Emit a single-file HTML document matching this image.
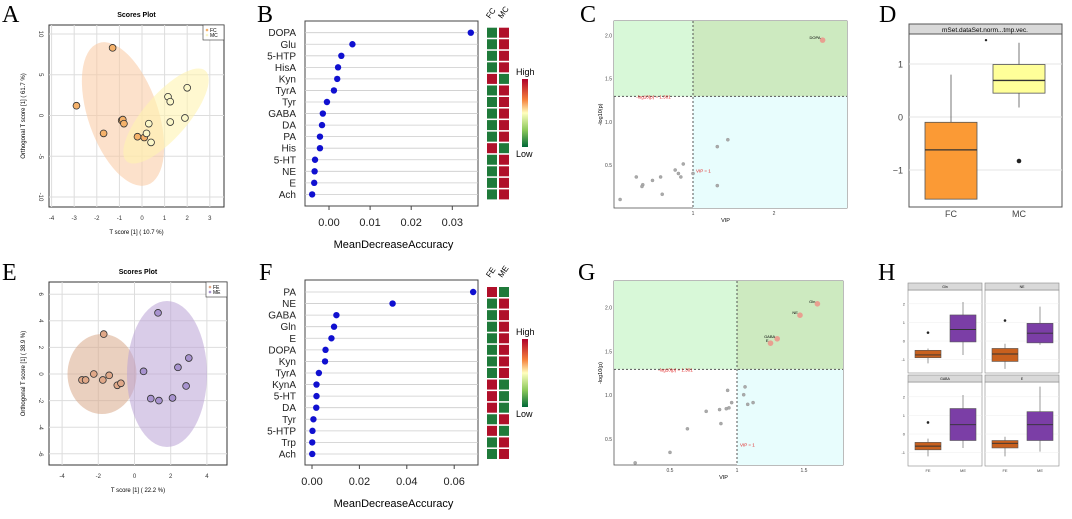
<!DOCTYPE html>
<html><head><meta charset="utf-8"><style>
body{margin:0;background:#fff;width:1072px;height:514px;overflow:hidden}
svg{font-family:"Liberation Sans",sans-serif}
.L{font-family:"Liberation Serif",serif;font-size:24px}
</style></head><body>
<svg id="s" width="1072" height="514" viewBox="0 0 1072 514" xmlns="http://www.w3.org/2000/svg">
<text class="L" x="2" y="22">A</text>
<text class="L" x="257" y="22">B</text>
<text class="L" x="580" y="22">C</text>
<text class="L" x="879" y="22">D</text>
<text class="L" x="2" y="280">E</text>
<text class="L" x="259" y="280">F</text>
<text class="L" x="578" y="280">G</text>
<text class="L" x="878" y="280">H</text>
</svg>
<script>
// ---- data ----
const aFCx=[-1.3,-2.9,-1.7,-0.9,-0.85,-0.8,-0.2,0.1];
const aFCy=[8.3,1.2,-2.2,-0.6,-0.5,-1,-2.6,-2.7];
const aMCx=[0.2,0.4,0.3,1.15,1.25,2,1.25,1.9];
const aMCy=[-2.2,-3.3,-1,2.3,1.7,3.4,-0.8,-0.3];
const bNames=["DOPA","Glu","5-HTP","HisA","Kyn","TyrA","Tyr","GABA","DA","PA","His","5-HT","NE","E","Ach"];
const bVals=[0.0345,0.0057,0.003,0.0022,0.002,0.0012,-0.0005,-0.0015,-0.0017,-0.0022,-0.0022,-0.0034,-0.0035,-0.0036,-0.0041];
const bHigh=[1,1,1,1,0,1,1,1,1,1,0,1,1,1,1]; // 1 = MC high
const bTicks=[0,0.01,0.02,0.03];
const cX=[1.3,1.43,1.3,0.88,0.78,0.82,0.85,0.6,0.5,0.3,0.38,0.37,0.62,0.1,1.0];
const cY=[0.72,0.8,0.27,0.52,0.45,0.41,0.37,0.37,0.33,0.37,0.28,0.26,0.17,0.11,0.41];
const cSigX=[2.6], cSigY=[1.95], cSigLab=["DOPA"];
const dFC=[-1.55,-1.55,-0.62,-0.1,0.8], dMC=[0.18,0.45,0.69,0.99,1.4];
const dOut=[[1,-0.83]];
const eFEx=[-1.7,-2.9,-2.7,-2.25,-1.75,-1.4,-0.95,-0.75];
const eFEy=[3,-0.45,-0.45,0,-0.45,-0.1,-0.85,-0.7];
const eMEx=[1.3,0.5,2.4,3.0,2.85,0.9,1.35,2.1];
const eMEy=[4.6,0.2,0.5,1.2,-0.9,-1.85,-2,-1.8];
const fNames=["PA","NE","GABA","Gln","E","DOPA","Kyn","TyrA","KynA","5-HT","DA","Tyr","5-HTP","Trp","Ach"];
const fVals=[0.068,0.034,0.0103,0.0093,0.0082,0.0057,0.0055,0.0029,0.0019,0.0019,0.0018,0.0006,0.0002,0.0001,0.0001];
const fHigh=[0,1,1,1,1,1,1,1,0,0,0,1,0,1,1]; // 1 = ME high
const fTicks=[0,0.02,0.04,0.06];
const gX=[1.06,1.05,1.12,1.08,0.93,0.96,0.94,0.92,0.87,0.77,0.88,0.63,0.5,0.24];
const gY=[1.1,1.01,0.92,0.9,1.06,0.92,0.86,0.85,0.84,0.82,0.68,0.62,0.35,0.23];
const gSigX=[1.6,1.47,1.3,1.25], gSigY=[2.05,1.92,1.65,1.6], gSigLab=["Gln","NE","GABA","E"];
const hNames=["Gln","NE","GABA","E"];
const hFE=[[-1.2,-0.9,-0.75,-0.5,-0.4],[-1.5,-1.1,-0.7,-0.4,-0.15],[-1.2,-0.85,-0.65,-0.45,-0.25],[-1.2,-0.75,-0.5,-0.35,-0.15]];
const hME=[[-0.75,-0.05,0.62,1.4,2.1],[-0.2,-0.1,0.42,0.95,1.85],[-0.75,-0.35,0.5,1.37,2.1],[-0.95,-0.35,0.5,1.2,2.55]];
const hOut=[0.45,1.1,0.62,null];

const S=document.getElementById('s'), NS="http://www.w3.org/2000/svg";
function mk(tag,a,txt){const e=document.createElementNS(NS,tag);for(const k in a)e.setAttribute(k,a[k]);if(txt!=null)e.textContent=txt;S.appendChild(e);return e;}
function nm(e,n){
return e;}

// ---- scores plot ----
function scores(bx,by,bw,bh,xs,ys,xt,yt,title,xl,yl,ell,g1,g2,c1,c2,ln,pfx){
 let e=mk('rect',{x:bx,y:by,width:bw,height:bh,fill:'#fff',stroke:'#333','stroke-width':1});
 
 
 xt.forEach(v=>{let l=mk('line',{x1:xs(v),x2:xs(v),y1:by,y2:by+bh,stroke:'#ddd'});nm(l,pfx+'-gridline-x');
  let t=mk('text',{x:xs(v),y:by+bh+13,'font-size':6,'text-anchor':'middle',fill:'#333'},v);nm(t,pfx+'-x-tick');});
 yt.forEach(v=>{let l=mk('line',{x1:bx,x2:bx+bw,y1:ys(v),y2:ys(v),stroke:'#ddd'});nm(l,pfx+'-gridline-y');
  let t=mk('text',{x:bx-10,y:ys(v),'font-size':6,'text-anchor':'middle',fill:'#333',transform:`rotate(90 ${bx-10} ${ys(v)})`},v);nm(t,pfx+'-y-tick');});
 ell.forEach((q,i)=>{let el=mk('ellipse',{cx:q[0],cy:q[1],rx:q[2],ry:q[3],fill:q[5],'fill-opacity':q[6],transform:`rotate(${q[4]} ${q[0]} ${q[1]})`});nm(el,pfx+'-ellipse-'+(i?ln[1]:ln[0]).toLowerCase());});
 g1[0].forEach((x,i)=>{let c=mk('circle',{cx:xs(x),cy:ys(g1[1][i]),r:3.4,fill:c1,stroke:'#333','stroke-width':0.8});nm(c,pfx+'-point-'+ln[0].toLowerCase());});
 g2[0].forEach((x,i)=>{let c=mk('circle',{cx:xs(x),cy:ys(g2[1][i]),r:3.4,fill:c2,stroke:'#333','stroke-width':0.8});nm(c,pfx+'-point-'+ln[1].toLowerCase());});
 let t=mk('text',{x:bx+bw/2,y:by-8,'font-size':7,'font-weight':'bold','text-anchor':'middle'},title);nm(t,pfx+'-title');
 t=mk('text',{x:bx+bw/2,y:by+bh+27,'font-size':6,'text-anchor':'middle'},xl);nm(t,pfx+'-x-axis-title');
 t=mk('text',{x:bx-24,y:by+bh/2,'font-size':6,'text-anchor':'middle',transform:`rotate(-90 ${bx-24} ${by+bh/2})`},yl);nm(t,pfx+'-y-axis-title');
 let r=mk('rect',{x:bx+bw-21,y:by,width:21,height:15,fill:'#fff',stroke:'#333','stroke-width':0.6});nm(r,pfx+'-legend');
 [[c1,ln[0]],[c2,ln[1]]].forEach((p,i)=>{let c=mk('circle',{cx:bx+bw-17,cy:by+5+i*5,r:1.3,fill:p[0]});nm(c,pfx+'-legend-marker');
  let tt=mk('text',{x:bx+bw-14,y:by+7+i*5,'font-size':5},p[1]);nm(tt,pfx+'-legend-entry');});
}
{const xs=v=>142+v*22.6, ys=v=>115.5-v*8.15;
 scores(49,25,175,182,xs,ys,[-4,-3,-2,-1,0,1,2,3],[10,5,0,-5,-10],"Scores Plot","T score [1] ( 10.7 %)","Orthogonal T score [1] ( 61.7 %)",
 [[123,114,35,75,-19,'#f9c9a0',0.55],[166,116,22,60,41,'#fff3b0',0.6]],[aFCx,aFCy],[aMCx,aMCy],'#f5b26b','#fbf7c8',["FC","MC"],'a');}
{const xs=v=>134.5+v*18.1, ys=v=>374-v*13.3;
 scores(49,282,178,183,xs,ys,[-4,-2,0,2,4],[6,4,2,0,-2,-4,-6],"Scores Plot","T score [1] ( 22.2 %)","Orthogonal T score [1] ( 38.9 %)",
 [[102,374,34.5,40,0,'#d9a98a',0.55],[167,374,40,73,0,'#b9a3d6',0.55]],[eFEx,eFEy],[eMEx,eMEy],'#e0a888','#a893cf',["FE","ME"],'e');}

// ---- importance dot plots ----
function imp(bx,by,bw,bh,xs,names,vals,high,ticks,row0,step,cols,pfx,cbY){
 let e=mk('rect',{x:bx,y:by,width:bw,height:bh,fill:'#fff',stroke:'#444','stroke-width':1});nm(e,pfx+'-plot-area');
 names.forEach((n,i)=>{const y=row0+i*step;
  let l=mk('line',{x1:bx,x2:bx+bw,y1:y,y2:y,stroke:'#ccc','stroke-width':0.8});nm(l,pfx+'-row-line');
  let t=mk('text',{x:bx-9,y:y+3.5,'font-size':10,'text-anchor':'end',fill:'#222'},n);nm(t,pfx+'-row-label');
  let c=mk('circle',{cx:xs(vals[i]),cy:y,r:3.2,fill:'#1010d0'});nm(c,pfx+'-dot');
  [0,1].forEach(k=>{const red=(high[i]===k);let r=mk('rect',{x:182+bx+k*12,y:y-5,width:10,height:10,fill:red?'#b0102a':'#1f7a3a'});nm(r,pfx+'-heat-cell');});
 });
 ticks.forEach(v=>{let l=mk('line',{x1:xs(v),x2:xs(v),y1:by+bh,y2:by+bh+4,stroke:'#444'});nm(l,pfx+'-x-tick-mark');
  let t=mk('text',{x:xs(v),y:by+bh+20,'font-size':11,'text-anchor':'middle',fill:'#222'},v.toFixed(2));nm(t,pfx+'-x-tick');});
 let t=mk('text',{x:bx+bw/2+2,y:by+bh+42,'font-size':11,'text-anchor':'middle'},"MeanDecreaseAccuracy");nm(t,pfx+'-x-axis-title');
 cols.forEach((c,k)=>{let tx=mk('text',{x:bx+185+k*12,y:by-2,'font-size':8,transform:`rotate(-55 ${bx+185+k*12} ${by-2})`},c);nm(tx,pfx+'-heat-column-label');});
 let gid=pfx+'grad';let d=mk('defs',{});d.innerHTML=`<linearGradient id="${gid}" x1="0" y1="0" x2="0" y2="1"><stop offset="0" stop-color="#b0002a"/><stop offset="0.3" stop-color="#f57f3a"/><stop offset="0.5" stop-color="#ffffbf"/><stop offset="0.75" stop-color="#8cc95b"/><stop offset="1" stop-color="#006837"/></linearGradient>`;
 let r=mk('rect',{x:bx+217,y:cbY,width:6,height:68,fill:`url(#${gid})`});nm(r,pfx+'-colorbar');
 t=mk('text',{x:bx+211,y:cbY-4,'font-size':9},"High");nm(t,pfx+'-colorbar-high');
 t=mk('text',{x:bx+211,y:cbY+78,'font-size':9},"Low");nm(t,pfx+'-colorbar-low');
}
imp(305,21,173,185,v=>329+v*4110,bNames,bVals,bHigh,bTicks,32.7,11.55,["FC","MC"],'b',79);
imp(305,280,173,185,v=>312+v*2370,fNames,fVals,fHigh,fTicks,292,11.57,["FE","ME"],'f',339);

// ---- VIP volcano ----
function vip(bx,by,bw,bh,xs,ys,xt,yt,px,py,sx,sy,sl,pfx,ydig){
 const xv=xs(1), yv=ys(1.3);
 let r=mk('rect',{x:bx,y:by,width:bw,height:bh,fill:'#fff',stroke:'#555','stroke-width':0.8});nm(r,pfx+'-plot-area');
 r=mk('rect',{x:bx,y:by,width:xv-bx,height:yv-by,fill:'#d8f8d8'});nm(r,pfx+'-region-p-only');
 r=mk('rect',{x:xv,y:by,width:bx+bw-xv,height:yv-by,fill:'#cdeac0'});nm(r,pfx+'-region-significant');
 r=mk('rect',{x:xv,y:yv,width:bx+bw-xv,height:by+bh-yv,fill:'#e8fdfd'});nm(r,pfx+'-region-vip-only');
 let l=mk('line',{x1:bx,x2:bx+bw,y1:yv,y2:yv,stroke:'#555','stroke-dasharray':'2,2'});nm(l,pfx+'-p-threshold');
 l=mk('line',{x1:xv,x2:xv,y1:by,y2:by+bh,stroke:'#555','stroke-dasharray':'2,2'});nm(l,pfx+'-vip-threshold');
 let t=mk('text',{x:(bx+xv)/2,y:yv+2,'font-size':4.5,fill:'#e02020','text-anchor':'middle'},"-log10(p) = 1.301");nm(t,pfx+'-p-threshold-label');
 t=mk('text',{x:xv+3,y:ys(0.42),'font-size':4.5,fill:'#e02020'},"VIP = 1");nm(t,pfx+'-vip-threshold-label');
 px.forEach((x,i)=>{let c=mk('circle',{cx:xs(x),cy:ys(py[i]),r:1.6,fill:'#aaa',stroke:'#888','stroke-width':0.3});nm(c,pfx+'-point');});
 sx.forEach((x,i)=>{let c=mk('circle',{cx:xs(x),cy:ys(sy[i]),r:2.8,fill:'#e8a090'});nm(c,pfx+'-significant-point');
  let tt=mk('text',{x:xs(x)-2,y:ys(sy[i])-1,'font-size':4,'text-anchor':'end'},sl[i]);nm(tt,pfx+'-point-label');});
 xt.forEach(v=>{let tt=mk('text',{x:xs(v),y:by+bh+7,'font-size':5,'text-anchor':'middle',fill:'#444'},v);nm(tt,pfx+'-x-tick');});
 yt.forEach(v=>{let tt=mk('text',{x:bx-2,y:ys(v)+1.5,'font-size':5,'text-anchor':'end',fill:'#444'},v.toFixed(1));nm(tt,pfx+'-y-tick');});
 t=mk('text',{x:bx+bw/2-5,y:by+bh+14,'font-size':5.5,'text-anchor':'middle'},"VIP");nm(t,pfx+'-x-axis-title');
 t=mk('text',{x:bx-12,y:by+bh/2,'font-size':5.5,'text-anchor':'middle',transform:`rotate(-90 ${bx-12} ${by+bh/2})`},"-log10(p)");nm(t,pfx+'-y-axis-title');
}
vip(614,21,233,187,v=>612+v*81,v=>209-v*86.6,[1,2],[2.0,1.5,1.0,0.5],cX,cY,cSigX,cSigY,cSigLab,'c');
vip(614,281,229,184,v=>603+v*134,v=>483-v*87.4,[0.5,1.0,1.5],[2.0,1.5,1.0,0.5],gX,gY,gSigX,gSigY,gSigLab,'g');

// ---- box plots ----
function box(cx,w,q,ys,fill,n,lw){
 let l=mk('line',{x1:cx,x2:cx,y1:ys(q[0]),y2:ys(q[4]),stroke:'#555','stroke-width':lw});nm(l,n+'-whisker');
 let r=mk('rect',{x:cx-w/2,y:ys(q[3]),width:w,height:ys(q[1])-ys(q[3]),fill:fill,stroke:'#555','stroke-width':lw});nm(r,n+'-box');
 l=mk('line',{x1:cx-w/2,x2:cx+w/2,y1:ys(q[2]),y2:ys(q[2]),stroke:'#333','stroke-width':lw*1.6});nm(l,n+'-median');
}
{const ys=v=>117-v*53;
 let r=mk('rect',{x:909,y:34,width:153,height:173,fill:'#fff',stroke:'#555'});nm(r,'d-plot-area');
 [1,0,-1].forEach(v=>{let l=mk('line',{x1:909,x2:1062,y1:ys(v),y2:ys(v),stroke:'#e5e5e5'});nm(l,'d-gridline');
  let t=mk('text',{x:903,y:ys(v)+3.5,'font-size':9,'text-anchor':'end',fill:'#444'},v<0?'\u2212'+(-v):v);nm(t,'d-y-tick');});
 r=mk('rect',{x:909,y:24,width:153,height:10,fill:'#d9d9d9',stroke:'#555'});nm(r,'d-strip');
 let t=mk('text',{x:985,y:32,'font-size':6.5,'text-anchor':'middle'},"mSet.dataSet.norm...tmp.vec.");nm(t,'d-strip-label');
 box(951,52,dFC,ys,'#fb9a35','d-fc',0.8);box(1019,52,dMC,ys,'#ffff99','d-mc',0.8);
 let c=mk('circle',{cx:1019,cy:ys(dOut[0][1]),r:2.3,fill:'#222'});nm(c,'d-outlier');
 c=mk('circle',{cx:986,cy:ys(1.45),r:1.2,fill:'#222'});nm(c,'d-jitter-point');
 [[951,'FC'],[1019,'MC']].forEach(p=>{let tt=mk('text',{x:p[0],y:217,'font-size':9,'text-anchor':'middle',fill:'#444'},p[1]);nm(tt,'d-x-tick');});
}
{const fx=[908,985], fy=[[290,373,341],[290,373,341],[382,466,434],[382,466,434]];
 hNames.forEach((nmx,i)=>{const x0=fx[i%2], ya=fy[i], ys=v=>ya[2]-v*18.6;
  let r=mk('rect',{x:x0,y:ya[0],width:74,height:ya[1]-ya[0],fill:'#fff',stroke:'#888','stroke-width':0.6});nm(r,'h-facet-'+nmx.toLowerCase());
  r=mk('rect',{x:x0,y:ya[0]-7,width:74,height:7,fill:'#d9d9d9',stroke:'#888','stroke-width':0.6});nm(r,'h-strip');
  let t=mk('text',{x:x0+37,y:ya[0]-2,'font-size':3.5,'text-anchor':'middle'},nmx);nm(t,'h-strip-label');
  [2,1,0,-1].forEach(v=>{let l=mk('line',{x1:x0,x2:x0+74,y1:ys(v),y2:ys(v),stroke:'#eee','stroke-width':0.5});nm(l,'h-gridline');
   if(i%2===0){let tt=mk('text',{x:x0-3,y:ys(v)+1.5,'font-size':4,'text-anchor':'end',fill:'#444'},v);nm(tt,'h-y-tick');}});
  box(x0+20,26,hFE[i],ys,'#c8601e','h-fe',0.6);box(x0+55,26,hME[i],ys,'#7b3ea6','h-me',0.6);
  if(hOut[i]!=null){let c=mk('circle',{cx:x0+20,cy:ys(hOut[i]),r:1.3,fill:'#222'});nm(c,'h-outlier');}
  if(i>=2){[[20,'FE'],[55,'ME']].forEach(p=>{let tt=mk('text',{x:x0+p[0],y:472,'font-size':4,'text-anchor':'middle',fill:'#444'},p[1]);nm(tt,'h-x-tick');});}
 });}
</script>
</body></html>
